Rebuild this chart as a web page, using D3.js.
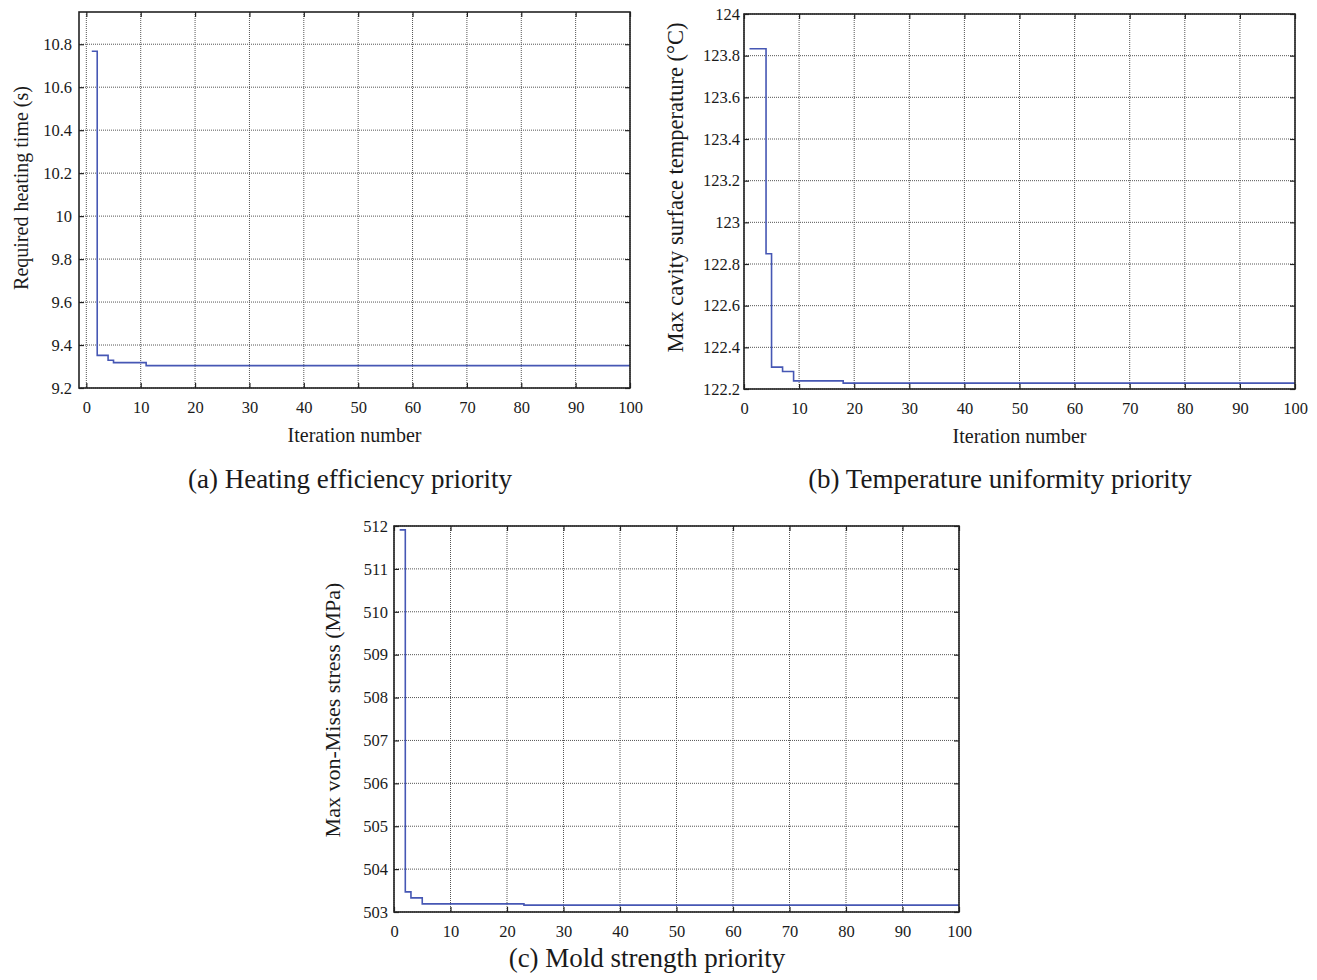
<!DOCTYPE html>
<html>
<head>
<meta charset="utf-8">
<script src="https://cdn.jsdelivr.net/npm/d3@7"></script>
<style>
  body { margin: 0; background: #fff; }
  svg text { font-family: "Liberation Serif", "Times New Roman", serif; fill: #1a1a1a; }
</style>
</head>
<body>
<div class="canvas"></div>
<script>
// iteration ticks shared by all three panels
const iterTicks = [0, 10, 20, 30, 40, 50, 60, 70, 80, 90, 100];

// (a) heating efficiency priority - best value, changes at these iterations
const iterA = [1, 2, 4, 5, 11, 100];
const heatTime = [10.767, 9.352, 9.329, 9.318, 9.304, 9.304];
const heatTicks = [9.2, 9.4, 9.6, 9.8, 10, 10.2, 10.4, 10.6, 10.8];

// (b) temperature uniformity priority
const iterB = [1, 4, 5, 7, 9, 18, 100];
const cavityTemp = [123.833, 122.849, 122.305, 122.284, 122.239, 122.228, 122.228];
const tempTicks = [122.2, 122.4, 122.6, 122.8, 123, 123.2, 123.4, 123.6, 123.8, 124];

// (c) mold strength priority
const iterC = [1, 2, 3, 5, 23, 100];
const vonMises = [511.91, 503.47, 503.33, 503.19, 503.16, 503.16];
const stressTicks = [503, 504, 505, 506, 507, 508, 509, 510, 511, 512];

const svg = d3.select('.canvas')
  .append('svg')
  .attr('width', 1317)
  .attr('height', 980);

svg.append('rect').attr('width', 1317).attr('height', 980).attr('fill', '#fff');

const lineColor = '#4657b4';

const drawPanel = (p) => {
  const x = d3.scaleLinear().domain(p.xDomain).range([p.left, p.right]);
  const y = d3.scaleLinear().domain(p.yDomain).range([p.bottom, p.top]);
  const g = svg.append('g');

  // dotted grid
  g.selectAll('line.vgrid')
    .data(iterTicks)
    .enter().append('line')
    .attr('x1', d => x(d)).attr('x2', d => x(d))
    .attr('y1', p.top).attr('y2', p.bottom)
    .attr('stroke', '#555').attr('stroke-width', 1)
    .attr('stroke-dasharray', '1,1');

  g.selectAll('line.hgrid')
    .data(p.yTicks)
    .enter().append('line')
    .attr('x1', p.left).attr('x2', p.right)
    .attr('y1', d => y(d)).attr('y2', d => y(d))
    .attr('stroke', '#555').attr('stroke-width', 1)
    .attr('stroke-dasharray', '1,1');

  // axes with inward ticks
  const bottom = g.append('g')
    .attr('transform', `translate(0, ${p.bottom})`)
    .call(d3.axisBottom(x).tickValues(iterTicks).tickSizeInner(-5).tickSizeOuter(0));
  bottom.selectAll('text').attr('y', 25).attr('dy', null).style('font-size', '16.5px');

  const left = g.append('g')
    .attr('transform', `translate(${p.left}, 0)`)
    .call(d3.axisLeft(y).tickValues(p.yTicks).tickSizeInner(-5).tickSizeOuter(0)
      .tickPadding(p.yPad).tickFormat(d => d));
  left.selectAll('text').style('font-size', '16.5px');

  g.append('g')
    .attr('transform', `translate(0, ${p.top})`)
    .call(d3.axisTop(x).tickValues(iterTicks).tickSizeInner(-5).tickSizeOuter(0).tickFormat(''));
  g.append('g')
    .attr('transform', `translate(${p.right}, 0)`)
    .call(d3.axisRight(y).tickValues(p.yTicks).tickSizeInner(-5).tickSizeOuter(0).tickFormat(''));

  g.selectAll('.domain').remove();
  g.selectAll('.tick line').attr('stroke', '#222').attr('stroke-width', 1.2);

  // convergence line
  const pts = p.iters.map((it, i) => [it, p.values[i]]);
  g.append('path')
    .datum(pts)
    .attr('fill', 'none')
    .attr('stroke', lineColor)
    .attr('stroke-width', 1.6)
    .attr('d', d3.line().x(d => x(d[0])).y(d => y(d[1])).curve(d3.curveStepAfter));

  // frame
  g.append('rect')
    .attr('x', p.left).attr('y', p.top)
    .attr('width', p.right - p.left).attr('height', p.bottom - p.top)
    .attr('fill', 'none').attr('stroke', '#222').attr('stroke-width', 1.6);

  // axis titles
  g.append('text')
    .attr('transform', `translate(${p.left - p.yLabelOff}, ${(p.top + p.bottom) / 2 + p.yLabelShift}) rotate(-90)`)
    .attr('text-anchor', 'middle')
    .style('font-size', p.yLabelSize)
    .text(p.yLabel);

  if (p.xLabel) {
    g.append('text')
      .attr('x', (p.left + p.right) / 2)
      .attr('y', p.bottom + 54)
      .attr('text-anchor', 'middle')
      .style('font-size', '20px')
      .text(p.xLabel);
  }

  g.append('text')
    .attr('x', p.capX)
    .attr('y', p.capY)
    .attr('text-anchor', 'middle')
    .style('font-size', '27px')
    .text(p.caption);
};

drawPanel({
  left: 79, right: 630, top: 12, bottom: 388,
  xDomain: [-1.35, 100], yDomain: [9.2, 10.95],
  yTicks: heatTicks, yPad: 7, yLabelOff: 51, yLabelShift: -12, yLabelSize: '20px',
  iters: iterA, values: heatTime,
  yLabel: 'Required heating time (s)',
  xLabel: 'Iteration number',
  caption: '(a) Heating efficiency priority', capX: 350, capY: 488
});

drawPanel({
  left: 744, right: 1295, top: 14, bottom: 389,
  xDomain: [0, 100], yDomain: [122.2, 124],
  yTicks: tempTicks, yPad: 4, yLabelOff: 61, yLabelShift: -14, yLabelSize: '22.5px',
  iters: iterB, values: cavityTemp,
  yLabel: 'Max cavity surface temperature (°C)',
  xLabel: 'Iteration number',
  caption: '(b) Temperature uniformity priority', capX: 1000, capY: 488
});

drawPanel({
  left: 394, right: 959, top: 526, bottom: 912,
  xDomain: [0, 100], yDomain: [503, 512],
  yTicks: stressTicks, yPad: 6, yLabelOff: 54, yLabelShift: -9, yLabelSize: '22px',
  iters: iterC, values: vonMises,
  yLabel: 'Max von-Mises stress (MPa)',
  xLabel: null,
  caption: '(c) Mold strength priority', capX: 647, capY: 967
});
</script>
</body>
</html>
